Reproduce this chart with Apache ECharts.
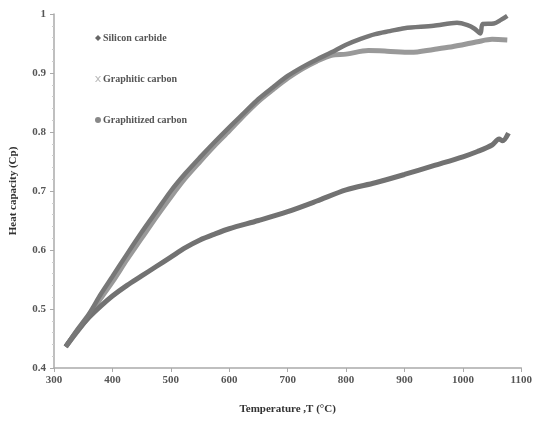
<!DOCTYPE html>
<html>
<head>
<meta charset="utf-8">
<script src="https://cdn.jsdelivr.net/npm/echarts@6/dist/echarts.min.js"></script>
<style>
  html, body { margin: 0; padding: 0; background: #fff; }
  #chart { width: 535px; height: 421px; }
</style>
</head>
<body>
<div id="chart"></div>
<script>
// 읽어낸 값 (온도 °C, 비열 Cp)
const sicT  = [320, 340, 360, 380, 400, 425, 450, 475, 500, 525, 550, 575, 600, 625, 650, 675, 700, 725, 750, 775, 800, 825, 850, 875, 900, 950, 990, 1008, 1020, 1030, 1034, 1053, 1065, 1076];
const sicCp = [0.436, 0.465, 0.492, 0.525, 0.555, 0.593, 0.63, 0.665, 0.70, 0.73, 0.757, 0.783, 0.808, 0.832, 0.856, 0.876, 0.895, 0.91, 0.923, 0.935, 0.948, 0.958, 0.966, 0.971, 0.976, 0.98, 0.985, 0.981, 0.975, 0.967, 0.983, 0.984, 0.99, 0.997];

const gcT  = [320, 340, 360, 380, 400, 425, 450, 475, 500, 525, 550, 575, 600, 625, 650, 675, 700, 725, 750, 775, 800, 838, 870, 911, 950, 979, 1000, 1025, 1050, 1076];
const gcCp = [0.436, 0.462, 0.488, 0.518, 0.546, 0.584, 0.62, 0.656, 0.69, 0.722, 0.75, 0.777, 0.802, 0.828, 0.852, 0.872, 0.891, 0.907, 0.92, 0.93, 0.932, 0.938, 0.937, 0.935, 0.94, 0.944, 0.948, 0.953, 0.957, 0.956];

const gzT  = [320, 340, 360, 380, 400, 425, 450, 475, 500, 525, 550, 575, 600, 650, 700, 750, 800, 850, 900, 950, 1000, 1025, 1050, 1062, 1068, 1078];
const gzCp = [0.436, 0.463, 0.486, 0.505, 0.522, 0.54, 0.556, 0.572, 0.588, 0.604, 0.617, 0.627, 0.636, 0.65, 0.665, 0.683, 0.702, 0.714, 0.728, 0.743, 0.758, 0.767, 0.778, 0.788, 0.785, 0.798];

const names = ['Silicon carbide', 'Graphitic carbon', 'Graphitized carbon'];
const yTicks = [0.4, 0.5, 0.6, 0.7, 0.8, 0.9, 1];
const xTicks = [300, 400, 500, 600, 700, 800, 900, 1000, 1100];

const pair = (xs, ys) => xs.map((x, i) => [x, ys[i]]);
const serif = '"Liberation Serif", "DejaVu Serif", serif';
const xIcon = 'path://M0,0 L2,0 L5,3.5 L8,0 L10,0 L6,5 L10,10 L8,10 L5,6.5 L2,10 L0,10 L4,5 Z';

const chart = echarts.init(document.getElementById('chart'));
chart.setOption({
  animation: false,
  grid: { left: 53, right: 11, top: 14, bottom: 53 },
  legend: {
    orient: 'vertical',
    left: 90, top: 28,
    itemGap: 31,
    itemWidth: 6, itemHeight: 6,
    textStyle: { fontFamily: serif, fontWeight: 'bold', fontSize: 10, color: '#555', padding: [0, 0, 0, -3] },
    data: [
      { name: names[0], icon: 'diamond', itemStyle: { color: '#666' } },
      { name: names[1], icon: xIcon, itemStyle: { color: '#bbb' } },
      { name: names[2], icon: 'circle', itemStyle: { color: '#888' } }
    ]
  },
  xAxis: {
    type: 'value', min: 300, max: 1100, interval: 100,
    name: 'Temperature ,T (°C)', nameLocation: 'middle', nameGap: 36,
    nameTextStyle: { fontFamily: serif, fontWeight: 'bold', fontSize: 11, color: '#333' },
    axisLine: { lineStyle: { color: '#aaa', width: 1.5 } },
    axisTick: { show: true, length: 4, lineStyle: { color: '#aaa' } },
    axisLabel: { fontFamily: serif, fontWeight: 'bold', fontSize: 11, color: '#555', margin: 7,
      formatter: v => xTicks.includes(v) ? String(v) : '' },
    splitLine: { show: false }
  },
  yAxis: {
    type: 'value', min: 0.4, max: 1, interval: 0.1,
    name: 'Heat capacity (Cp)', nameLocation: 'middle', nameGap: 35,
    nameTextStyle: { fontFamily: serif, fontWeight: 'bold', fontSize: 11, color: '#333' },
    axisLine: { show: true, lineStyle: { color: '#aaa', width: 1.5 } },
    axisTick: { show: true, length: 4, lineStyle: { color: '#aaa' } },
    minorTick: { show: true, splitNumber: 5, length: 2, lineStyle: { color: '#ccc' } },
    axisLabel: { fontFamily: serif, fontWeight: 'bold', fontSize: 11, color: '#555', margin: 8,
      formatter: v => yTicks.some(t => Math.abs(t - v) < 1e-6) ? String(+v.toFixed(1)) : '' },
    splitLine: { show: false }
  },
  series: [
    { name: names[1], type: 'line', data: pair(gcT, gcCp), showSymbol: false, smooth: 0.3,
      lineStyle: { color: '#999', width: 5 }, itemStyle: { color: '#bbb' }, z: 1 },
    { name: names[2], type: 'line', data: pair(gzT, gzCp), showSymbol: false, smooth: 0.3,
      lineStyle: { color: '#727272', width: 5 }, itemStyle: { color: '#888' }, z: 2 },
    { name: names[0], type: 'line', data: pair(sicT, sicCp), showSymbol: false, smooth: 0.3,
      lineStyle: { color: '#777', width: 4.5 }, itemStyle: { color: '#666' }, z: 3 }
  ]
});
</script>
</body>
</html>
